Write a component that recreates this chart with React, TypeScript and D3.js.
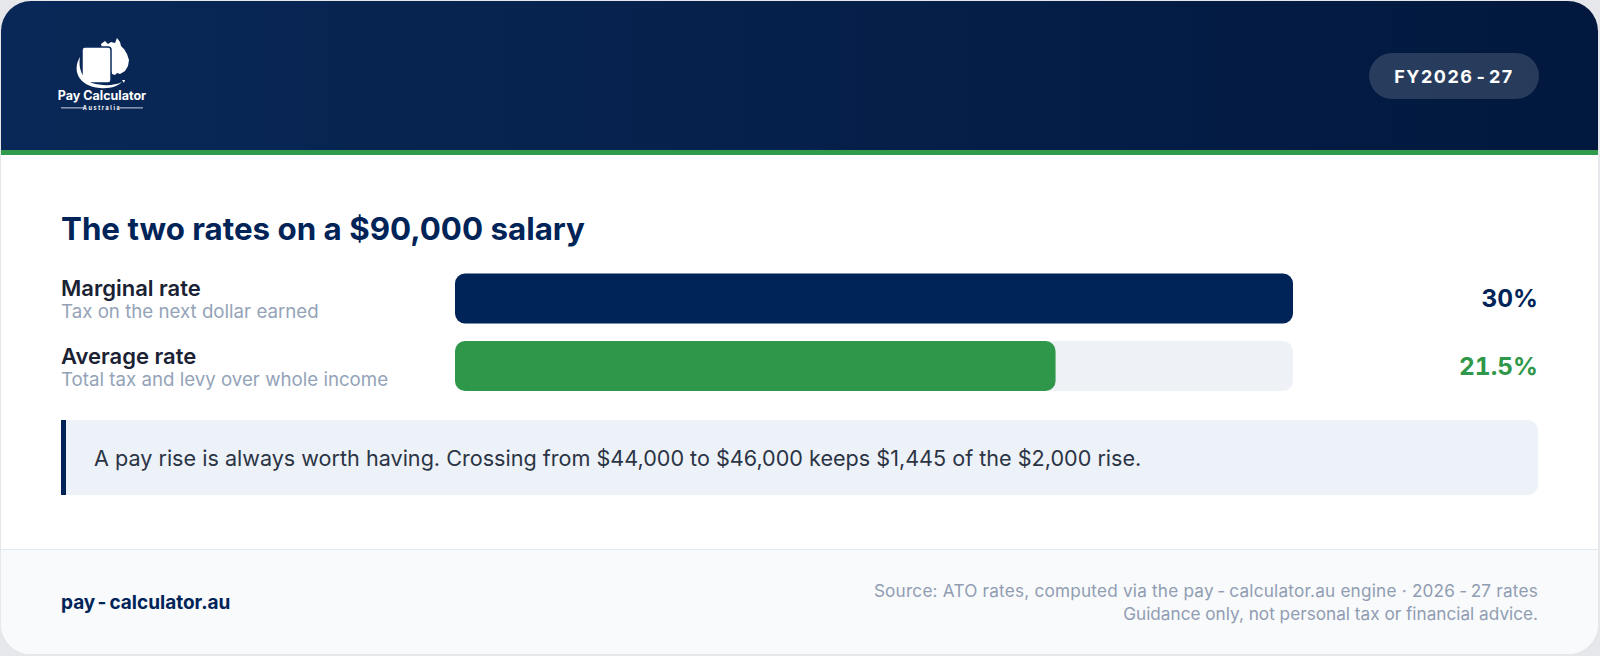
import React from "react";
import * as d3 from "d3";

const categories = ["Marginal rate", "Average rate"];
const subtitles = ["Tax on the next dollar earned", "Total tax and levy over whole income"];
const values = [30, 21.5];
const valueLabels = ["30%", "21.5%"];
const title = "The two rates on a $90,000 salary";
const badgeParts = ["FY2026", "-", "27"];
const callout = "A pay rise is always worth having. Crossing from $44,000 to $46,000 keeps $1,445 of the $2,000 rise.";
const footerSiteParts = ["pay", "-", "calculator.au"];
const footerNoteParts = [
  ["Source: ATO rates, computed via the pay", "-", "calculator.au engine \u00b7 2026", "-", "27 rates"],
  ["Guidance only, not personal tax or financial advice."],
];

const W = 1600;
const H = 656;
const NAVY = "#002358";
const GREEN = "#2e974a";
const FONT = "Inter, 'Noto Sans', sans-serif";

function spaced(parts: string[], gap: number) {
  return parts.map((p, i) => (
    <tspan key={i} dx={i > 0 && (p === "-" || parts[i - 1] === "-") ? gap : 0}>{p}</tspan>
  ));
}

export default function App() {
  const x = d3.scaleLinear().domain([0, d3.max(values) as number]).range([455, 1293]);
  const y = d3.scaleBand<string>().domain(categories).range([273.5, 391]).paddingInner(0.26).paddingOuter(0);
  const barColors = [NAVY, GREEN];

  return (
    <svg width={W} height={H} style={{ position: "absolute", left: 0, top: 0, display: "block" }} fontFamily={FONT}>
      <defs>
        <clipPath id="card">
          <rect x={1} y={1} width={W - 3} height={H - 3} rx={30} ry={30} />
        </clipPath>
        <linearGradient id="hdr" x1="0" y1="0" x2="1" y2="0">
          <stop offset="0" stopColor="#092857" />
          <stop offset="1" stopColor="#02183e" />
        </linearGradient>
      </defs>
      <rect x={0} y={0} width={W} height={H} fill="#e6e7ea" />
      <g clipPath="url(#card)">
        <rect x={0} y={0} width={W} height={H} fill="#ffffff" />
        <rect x={0} y={0} width={W} height={150} fill="url(#hdr)" />
        <rect x={0} y={150} width={W} height={5} fill="#2f9a4b" />
        <rect x={0} y={549} width={W} height={H - 549} fill="#f8fafc" />
        <line x1={0} x2={W} y1={549.5} y2={549.5} stroke="#e2e8f0" strokeWidth={1} />
      </g>

      {/* logo */}
      <g fill="#ffffff">
        <path d="M101,44 l4,-3 l3,3 l3,-2 l4,1 l2,-5 l3,4 l1,4 l3,3 l3,5 l2,6 l-1,6 l-3,5 l-5,3 l-3,-1 l-2,2 l-3,-1 l-1,-3 l-3,-2 l-2,-2 z" />
        <path d="M122,80 l3,0 l-1,3 z" />
        <rect x={82} y={47} width={29} height={36} rx={3} stroke={"#0a2b5f"} strokeWidth={1.5} />
        <path d="M80,57 C72,70 78,86 100,88 C110,89 118,86 122,82 C114,86 102,86 92,83 C82,79 78,68 80,57 z" />
        <text x={102} y={100} textAnchor="middle" fontSize={12.5} fontWeight={700} fontFamily={FONT}>Pay Calculator</text>
        <text x={102} y={110} textAnchor="middle" fontSize={5.5} fontWeight={700} letterSpacing={1.6} fontFamily={FONT}>Australia</text>
        <rect x={61} y={107.5} width={23} height={0.8} />
        <rect x={120} y={107.5} width={23} height={0.8} />
      </g>

      {/* badge */}
      <rect x={1369} y={53} width={170} height={46} rx={23} fill="#ffffff" fillOpacity={0.15} />
      <text x={1454} y={83} textAnchor="middle" fill="#ffffff" fontSize={18} fontWeight={700} letterSpacing={1.5}>{spaced(badgeParts, 3)}</text>

      {/* title */}
      <text x={61} y={240} fill={NAVY} fontSize={31.3} fontWeight={700}>{title}</text>

      {/* bars */}
      {categories.map((c, i) => {
        const y0 = y(c) as number;
        const bw = y.bandwidth();
        return (
          <g key={c}>
            <text x={61} y={y0 + 22.5} fill="#1a2233" fontSize={22} fontWeight={600}>{c}</text>
            <text x={61} y={y0 + 44.5} fill="#94a3b8" fontSize={18.7}>{subtitles[i]}</text>
            <rect x={x(0)} y={y0} width={x(d3.max(values) as number) - x(0)} height={bw} rx={10} fill="#eef2f6" />
            <rect x={x(0)} y={y0} width={x(values[i]) - x(0)} height={bw} rx={10} fill={barColors[i]} />
            <text x={1538} y={y0 + bw / 2 + 9} textAnchor="end" fill={barColors[i]} fontSize={24.5} fontWeight={700} style={{ fontFeatureSettings: "'tnum'" }}>{valueLabels[i]}</text>
          </g>
        );
      })}

      {/* callout */}
      <path d="M61,420 H1528 A10,10 0 0 1 1538,430 V485 A10,10 0 0 1 1528,495 H61 Z" fill="#edf2f8" />
      <rect x={61} y={420} width={5} height={75} fill={NAVY} />
      <text x={94} y={466} fill="#2b3445" fontSize={21.6}>{callout}</text>

      {/* footer */}
      <text x={61} y={609} fill={NAVY} fontSize={19} fontWeight={700}>{spaced(footerSiteParts, 3)}</text>
      {footerNoteParts.map((t, i) => (
        <text key={i} x={1538} y={597 + i * 23} textAnchor="end" fill="#919db2" fontSize={17.2} letterSpacing={i === 0 ? 0.2 : 0}>{spaced(t, 4)}</text>
      ))}
    </svg>
  );
}
